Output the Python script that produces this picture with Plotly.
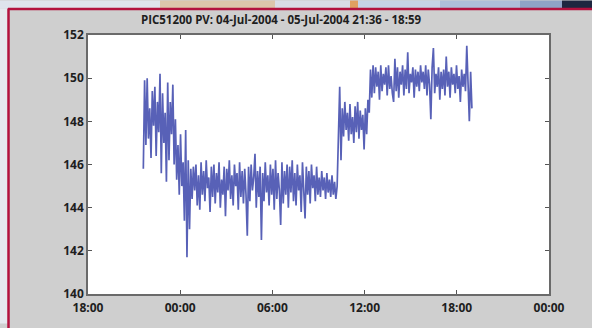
import pandas as pd
import plotly.graph_objects as go

# PIC51200 process value, roughly 5-minute samples from 21:36 on 4 Jul to 18:59 on 5 Jul
seg_evening = [145.8, 149.9, 146.9, 150.0, 147.2, 148.6, 146.3, 149.4, 147.8, 149.6,
               146.4, 148.9, 147.5, 150.2, 145.6, 149.3, 147.0, 148.4, 145.2, 149.8,
               146.2, 148.9, 147.4, 149.7, 146.0, 148.1]
seg_midnight = [145.3, 146.9, 144.6, 147.4, 145.0, 146.1, 143.4, 147.6, 141.7, 146.2,
                143.0, 145.8]
seg_night = [144.4, 145.9, 144.8, 146.0, 144.1, 145.5, 143.9, 146.1, 144.6, 145.7,
             144.3, 146.2, 144.9, 145.4, 143.8, 145.9, 144.5, 146.0, 144.2, 145.6,
             144.7, 146.1, 144.0, 145.3, 144.6, 145.9, 143.6, 145.8, 144.8, 146.2,
             144.4, 145.5, 144.1, 146.0, 145.0, 145.6, 143.9, 146.1, 144.5, 145.7,
             144.2, 145.8, 144.6, 142.7, 145.9, 144.3, 146.0, 144.8, 145.4, 146.5,
             144.0, 145.7, 144.5, 145.9, 142.5, 145.6, 144.3, 146.1, 144.7, 145.5,
             144.1, 146.0, 144.6, 145.8, 143.9, 146.2, 144.4, 145.6, 144.8, 143.2,
             146.1, 144.2, 145.7, 144.6, 146.0, 144.0, 145.9, 144.7, 146.2, 144.3,
             145.6, 144.1, 146.0, 144.8, 145.5, 143.8, 146.1, 144.5, 143.5, 145.9,
             144.6, 145.7, 144.2, 146.0, 144.9, 145.5, 144.3, 145.9, 144.6, 145.4,
             144.5, 145.7, 144.8, 145.4, 144.4, 145.6, 144.7, 145.3, 144.5, 145.5,
             144.6, 145.2, 144.4, 145.0]
seg_morning = [148.1, 149.6, 146.2, 148.6, 147.3, 148.9, 147.6, 148.4, 147.1, 148.8,
               147.4, 148.2, 147.0, 148.7, 147.5, 148.9, 147.2, 148.5, 147.6, 148.3,
               146.7, 148.6, 147.4, 149.0, 148.4]
seg_afternoon = [150.4, 149.1, 150.6, 149.3, 150.5, 149.6, 150.3, 149.0, 150.6, 149.4,
                 150.2, 149.7, 150.5, 149.2, 150.6, 149.5, 150.1, 149.3, 148.9, 150.9,
                 149.4, 150.5, 149.1, 150.3, 149.7, 150.6, 149.2, 150.4, 149.5, 151.2,
                 149.3, 150.2, 149.8, 150.5, 149.1, 150.4, 149.6, 150.3, 149.4, 150.6,
                 149.8, 150.3, 149.5, 150.6, 149.2, 150.4, 149.7, 148.1, 150.5, 151.4,
                 149.3, 150.2, 149.6, 150.5, 149.0, 150.3, 149.5, 150.4, 149.2, 151.0,
                 149.6, 150.3, 149.1, 150.5, 149.7, 150.2, 149.3, 150.6, 149.5, 150.1,
                 148.9, 150.4, 149.6, 150.2, 149.4, 151.5, 149.2, 148.0, 150.3, 148.6]

pv_values = seg_evening + seg_midnight + seg_night + seg_morning + seg_afternoon
start_time = "2004-07-04 21:36"
end_time = "2004-07-05 18:59"
times = pd.date_range(start=start_time, end=end_time, periods=len(pv_values))

x_ticks = ["2004-07-04 18:00", "2004-07-05 00:00", "2004-07-05 06:00",
           "2004-07-05 12:00", "2004-07-05 18:00", "2004-07-06 00:00"]
x_tick_labels = ["18:00", "00:00", "06:00", "12:00", "18:00", "00:00"]
y_ticks = [140, 142, 144, 146, 148, 150, 152]

title_text = "PIC51200 PV: 04-Jul-2004 - 05-Jul-2004 21:36 - 18:59"

W, H = 592, 328
L, R, T, B = 88, 43, 35, 30
PW, PH = W - L - R, H - T - B


def px(xp):
    return (xp - L) / PW


def py(yp):
    return (H - B - yp) / PH


fig = go.Figure()
fig.add_trace(go.Scatter(
    x=times, y=pv_values, mode="lines",
    line=dict(color="#4650b0", width=1.7),
    opacity=0.9, hoverinfo="skip", showlegend=False,
))

shapes = []
# artwork strip across the top of the page
strip = [
    (0, 160, "#dfe4ec"),
    (160, 275, "#dcc6ab"),
    (275, 350, "#d9dde6"),
    (350, 440, "#c6d3e6"),
    (440, 520, "#aebfda"),
    (520, 562, "#8fa3c6"),
    (562, 592, "#1e2740"),
]
for x0, x1, c in strip:
    shapes.append(dict(type="rect", xref="paper", yref="paper",
                       x0=px(x0), x1=px(x1), y0=py(8), y1=py(0),
                       fillcolor=c, line=dict(width=0), layer="above"))
shapes.append(dict(type="rect", xref="paper", yref="paper",
                   x0=px(350), x1=px(358), y0=py(8), y1=py(0),
                   fillcolor="#e0a060", line=dict(width=0), layer="above"))
# light margin left of the frame
shapes.append(dict(type="rect", xref="paper", yref="paper",
                   x0=px(0), x1=px(8), y0=py(H), y1=py(8),
                   fillcolor="#e6e9ef", line=dict(width=0), layer="above"))
# red frame
shapes.append(dict(type="line", xref="paper", yref="paper",
                   x0=px(8), x1=px(W + 5), y0=py(8.5), y1=py(8.5),
                   line=dict(color="#b3123e", width=2.5), layer="above"))
shapes.append(dict(type="line", xref="paper", yref="paper",
                   x0=px(8.5), x1=px(8.5), y0=py(8), y1=py(H + 5),
                   line=dict(color="#b3123e", width=2.5), layer="above"))

tick_font = dict(family="'Open Sans', sans-serif", size=12, color="#1e1e1e", weight="bold")

fig.update_layout(
    width=W, height=H,
    margin=dict(l=L, r=R, t=T, b=B),
    paper_bgcolor="#cfcfcf",
    plot_bgcolor="#ffffff",
    shapes=shapes,
    title=dict(text=title_text, x=281 / W, xanchor="center",
               xref="container", y=1 - 20 / H, yref="container", yanchor="middle",
               font=dict(family="'Open Sans', sans-serif", size=11.5, color="#1e1e1e",
                         weight="bold")),
    xaxis=dict(
        range=[x_ticks[0], x_ticks[-1]],
        tickmode="array", tickvals=x_ticks, ticktext=x_tick_labels,
        ticks="inside", ticklen=4, tickwidth=1, tickcolor="#555555",
        showline=True, linecolor="#6a6a6a", linewidth=1.5, mirror="ticks",
        showgrid=False, zeroline=False, tickfont=tick_font, ticklabelstandoff=2,
    ),
    yaxis=dict(
        range=[140, 152],
        tickmode="array", tickvals=y_ticks, ticktext=[str(v) for v in y_ticks],
        ticks="inside", ticklen=4, tickwidth=1, tickcolor="#555555",
        showline=True, linecolor="#6a6a6a", linewidth=1.5, mirror="ticks",
        showgrid=False, zeroline=False, tickfont=tick_font,
    ),
)

fig.write_html("out.html")
